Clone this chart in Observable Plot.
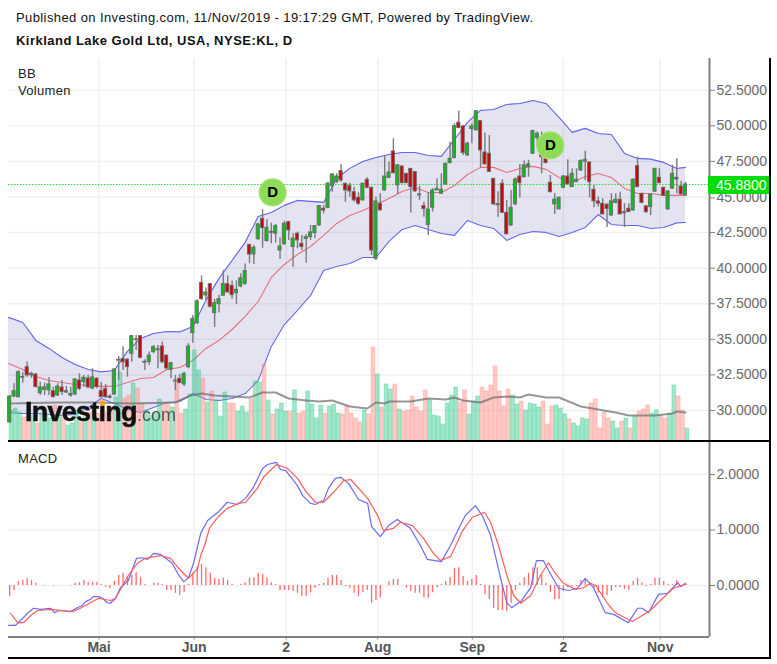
<!DOCTYPE html>
<html><head><meta charset="utf-8">
<script src="https://cdn.jsdelivr.net/npm/d3@7"></script>
<script src="https://cdn.jsdelivr.net/npm/@observablehq/plot@0.6"></script>
<style>
html,body{margin:0;padding:0;background:#fff;}
#wrap{position:relative;width:777px;height:664px;overflow:hidden;font-family:"Liberation Sans",Arial,sans-serif;}
#wrap svg{position:absolute;left:0;background:transparent;}
.t{position:absolute;white-space:nowrap;color:#111;}
.frame{position:absolute;background:#000;}
</style></head><body><div id="wrap"></div>
<script>
const opens=[29.16,30.98,30.93,32.35,33.04,32.46,32.53,31.22,31.45,31.41,31.36,31.05,31.62,31.26,31.05,31.12,32.11,31.99,32.25,31.55,32.23,31.36,31.52,30.98,31.12,33.5,33.63,33.56,33.98,35.0,35.22,33.35,33.39,34.1,34.23,34.5,33.86,32.86,32.1,32.23,31.83,33.04,35.43,36.13,38.97,38.08,38.88,36.84,37.47,38.06,38.88,38.76,38.24,38.71,38.9,41.64,40.96,42.04,43.47,41.9,42.55,42.42,41.24,41.67,43.23,41.48,42.42,41.71,42.04,42.18,42.46,43,44.17,44.24,45.74,46.04,46.82,45.93,45.76,45.34,44.95,44.76,46.21,45.65,40.66,44.53,45.46,46.35,48.2,45.81,47.15,46.63,46.98,46.75,45.18,44.36,43.03,44.25,45.46,45.23,45.88,47.38,47.73,50.22,49.96,47.92,49.77,49.68,50.33,48.13,48.04,46.28,44.5,45.93,43.89,43,44.48,46.44,46.39,47.1,48.04,49.14,48.3,47.68,46,44.48,44.13,45.65,46.44,45.69,46.04,46.86,47.48,47.43,45.51,44.69,44.53,44.46,43.7,44.58,44.81,43.85,44.17,44.05,47.17,45.23,44.34,44.29,45.37,46.35,45.65,44.13,45.58,46.35,45.74,45.11];
const closes=[30.98,31.36,32.69,32.3,32.46,32.56,31.64,31.62,31.62,31.83,30.93,31.69,31.29,31.36,31.17,32.18,31.52,32.3,31.62,32.32,31.64,30.93,30.93,30.89,32.88,33.56,33.39,33.04,35.22,34.95,33.7,33.42,33.86,34.45,34.3,33.39,32.95,33.32,32.04,31.92,32.58,34.5,36.44,37.66,37.82,38.29,37.29,37.54,37.82,38.88,38.29,38.1,38.48,39.28,39.79,40.96,41.43,43.07,42.81,42.84,42.48,42.95,41.52,43.12,42.65,42.07,41.95,41.48,42.18,42.51,42.95,44.36,44.05,45.93,46.58,46.44,46.16,45.46,45.39,44.76,44.53,45.93,45.65,41.24,44.69,44.05,46.44,46.72,46.67,47.22,45.97,45.97,45.69,45.39,45.11,44.15,44.11,45.46,45.58,45.51,47.33,47.69,49.98,49.84,48.08,48.74,49.96,51.03,48.27,47.29,46.77,44.48,44.42,43.89,42.37,44.24,46.23,45.97,47.22,47.29,49.63,49.44,47.8,47.38,45.34,44.81,44.95,46.44,45.88,46.63,46.21,47.52,47.62,46.04,44.69,44.53,43.77,44.15,44.69,44.81,43.77,43.93,43.93,46.21,45.69,44.58,43.93,45.18,46.98,45.97,45.09,45.39,46.63,46.23,45.18,45.88];
const highs=[31.05,31.87,32.8,32.69,33.4,32.69,32.6,31.99,31.92,32.3,31.64,31.88,32.11,31.69,31.64,32.23,32.58,32.46,32.46,32.93,32.32,31.99,31.83,31.1,32.93,33.79,34.48,33.65,35.27,35.27,35.27,33.56,34.1,34.57,34.57,34.8,33.86,33.39,32.46,32.53,32.69,34.69,36.68,37.8,39.45,38.6,38.92,37.8,38.08,39.84,39.45,39.1,39.1,39.6,40.3,41.65,41.59,43.16,44.1,43.4,43.16,43.07,42.13,43.3,43.3,42.42,42.53,42.3,42.37,43,43,44.41,44.41,46.04,46.63,46.63,47.29,45.97,45.97,45.69,45.29,45.97,46.35,45.69,44.99,45.23,47.92,47.45,49.09,47.29,47.15,46.63,46.98,46.75,45.76,44.63,45.29,45.58,46.28,46.63,47.38,48.85,50.15,51.03,50.03,48.85,50.15,51.08,50.33,49.49,49.32,46.28,45.36,46.21,44.76,45.46,46.35,47.29,47.52,47.57,49.68,49.56,49.56,48.92,46.51,45.23,44.99,46.51,47.62,46.98,46.98,47.62,48.22,47.43,45.81,44.99,44.88,44.53,45.23,45.23,45.34,44.53,44.53,46.28,47.8,45.23,44.41,45.18,46.98,46.98,45.69,45.46,47.22,47.69,46.11,46.04];
const lows=[29.1,30.9,30.88,31.92,32.34,32.25,31.6,31.05,31.05,31.05,30.89,30.98,31.05,31.2,30.93,31.05,31.4,31.64,31.52,31.45,31.52,30.89,30.84,30.8,31.05,32.11,32.81,32.34,33.39,34.22,33.63,32.81,33.16,33.98,32.93,33.28,32.81,32.23,31.4,31.9,31.69,32.93,34.73,36.04,37.73,37.73,37.2,35.83,36.84,38.06,38.25,37.82,37.45,38.62,38.78,40.31,40.26,41.95,41.4,41.83,41.71,41.76,40.61,41.6,41.95,40.07,41.36,41.24,40.35,41.95,42.07,42.95,43.82,44.17,45.34,45.97,46.04,44.63,44.99,44.63,44.41,44.71,45.58,40.89,40.54,44.05,45.41,46.28,46.63,45.18,45.93,45.93,43.87,45.34,44.76,43.57,42.3,43.94,45.46,45.18,45.83,47.33,47.69,49.79,47.92,47.85,48.74,49.63,47.05,47.24,46.72,44.41,43.57,43.86,42.37,42.93,44.41,44.95,46.35,46.39,47.99,48.5,46.63,47.33,45.27,43.77,44.1,45.58,45.88,45.69,46.04,46.79,46.16,44.95,44.24,44.29,43.77,42.86,43.63,44.53,43.77,42.86,43.91,44,45.65,44.53,43.86,43.7,45.34,45.93,45.04,44.05,45.53,45.23,45.11,45.06];
const volumes=[31,33,29,24,29,26,18,28,28,23,36,28,26,16,18,31,19,28,29,31,28,39,29,34,44,69,43,46,58,53,38,31,26,28,42,38,38,34,58,28,32,47,91,71,63,39,50,41,25,49,38,38,30,35,29,42,60,59,77,41,27,32,38,30,30,51,28,30,50,37,23,36,28,35,37,28,27,35,28,23,19,31,27,94,67,34,57,52,57,32,30,31,45,34,30,51,41,26,25,17,38,46,54,39,51,27,40,45,54,50,56,75,50,35,52,46,37,40,31,38,37,34,40,17,35,36,33,27,22,18,15,23,22,38,42,13,29,23,20,13,20,23,13,25,30,32,36,28,31,26,23,28,56,45,31,13];
const vmaIdx=[-0.27,11,18.5,28,38,39,41.5,44,47,55,58,61,64,68,71,74,78,82,84,86,87,92,96,100,102,104,108,111,114,117,119,123,126,131,135,139,142,148,152,153,155];
const vmaVal=[38,39,39,38,39,41,46,48,46,44,49,49,43,41,40,41,35,33,39,38,40,40,43,42,44,41,39,44,45,44,47,44,44,35,32,29,26,26,28,30,29];
const bandIdx=[-0.27,3,6,9,12,15,18,21,24,27,30,33,36,39,42,45,48,51,54,57,60,63,66,69,72,75,78,81,84,87,90,93,96,99,102,105,108,111,114,117,120,123,126,129,132,135,138,141,144,147,150,153,155];
const bbUpper=[36.54,36.18,34.92,34.36,33.72,33.23,32.88,32.71,32.81,34.15,35.06,35.41,35.55,35.52,35.9,37.73,39.28,40.54,41.81,43.63,43.91,44.41,44.76,44.69,44.62,46.3,47.01,47.5,47.78,47.99,48.13,48.13,47.92,47.85,49.04,50.24,51.08,51.15,51.5,51.57,51.78,51.57,50.59,49.54,49.82,49.46,49.39,48.06,47.71,47.66,47.43,47.0,47.08];
const bbLower=[29.86,29.79,29.79,29.72,29.65,29.72,30.21,30.84,30.49,30.07,29.86,30.21,30.56,30.63,31.19,30.77,30.7,30.84,31.19,32.11,34.5,36.04,37.03,38.08,39.84,40.12,40.33,40.75,40.75,41.88,42.72,43.0,42.72,42.44,42.3,43.35,43.0,42.79,41.95,42.37,42.58,42.51,42.23,42.51,42.86,43.77,43.07,43.0,43.0,42.79,42.86,43.18,43.21];
const bbMiddle=[33.3,32.88,32.39,32.11,31.97,31.83,31.76,31.69,31.69,31.97,32.25,32.32,32.88,33.02,33.51,34.36,34.92,35.69,36.61,37.66,39.35,40.26,40.96,41.52,42.3,43.14,43.7,44.05,44.48,44.9,45.39,45.67,45.32,45.32,45.81,46.58,47.08,47.08,46.72,47.0,47.15,46.94,46.37,46.02,46.44,46.65,46.37,45.6,45.25,45.25,45.11,45.11,45.11];
const macdIdx=[-0.27,1.3,2.5,4.1,5.5,7.1,9.4,10.3,11.2,13.9,15.5,16.7,17.4,18.5,19.2,20.4,21.3,22.4,23.1,24.3,25.4,27.2,29.1,30.5,31.6,33,34.6,37.3,38.5,39.9,41,42.2,43.8,45.4,47.9,49.9,52.2,54.1,55.9,58,59.1,61.2,62.1,63.3,66,67.2,69,70.1,71.3,72,73.1,74.7,75.9,77.7,80,82.1,83,85,86.9,88.9,91.9,94.2,95.8,99,101.1,102.2,104.5,106.8,108.4,110.3,112.6,114,115.1,117.2,119.5,120.8,122.4,123.6,125.9,128.2,130.2,132,133.9,136.6,138.5,141.9,144,145.1,146.5,148.8,150.9,153.2,153.9,155];
const macdVal=[-0.72,-0.72,-0.63,-0.5,-0.41,-0.43,-0.41,-0.49,-0.45,-0.47,-0.4,-0.36,-0.29,-0.25,-0.2,-0.2,-0.23,-0.31,-0.32,-0.23,-0.04,0.09,0.49,0.5,0.47,0.58,0.56,0.4,0.22,0.07,0.14,0.41,0.94,1.17,1.33,1.5,1.46,1.57,1.77,2.11,2.18,2.22,2.09,2.07,1.8,1.62,1.48,1.46,1.51,1.53,1.75,1.93,1.95,1.84,1.55,1.48,1.06,0.88,1.08,1.19,1.03,0.72,0.47,0.43,0.72,0.9,1.26,1.44,1.26,0.9,0.13,-0.31,-0.4,-0.29,-0.04,0.45,0.45,0.27,-0.05,-0.09,-0.05,0.13,-0.04,-0.49,-0.52,-0.67,-0.41,-0.41,-0.49,-0.16,-0.14,0.05,-0.02,0.04];
const signalIdx=[0.2,1.8,3.2,4.8,6.4,9.4,12.1,14.4,16.2,18.5,20.4,23.1,24.3,25.9,27.2,29.3,31.1,34.6,36.9,39.2,41,43.1,43.8,44.7,45.8,47.7,49.9,52.5,54.1,56.8,58.2,61.2,63.7,66,67.8,70.1,72,74.3,76.6,78.2,82.1,84.4,85.7,88,89.6,92.4,94.9,97.2,98.8,101.1,103.9,106.1,108.9,110.3,112.1,114.2,115.6,117.2,119.5,121.7,123.6,124.7,127,129.8,131.6,133.2,134.4,137.1,138.9,142.8,146.9,149.9,152.2,155];
const signalVal=[-0.5,-0.67,-0.67,-0.54,-0.45,-0.43,-0.45,-0.47,-0.41,-0.31,-0.23,-0.27,-0.23,0,0.18,0.4,0.49,0.54,0.49,0.27,0.13,0.31,0.54,0.72,1.03,1.23,1.39,1.48,1.5,1.75,1.95,2.18,2.11,1.93,1.71,1.5,1.5,1.68,1.89,1.91,1.57,1.26,0.99,1.03,1.14,1.08,0.85,0.58,0.45,0.52,0.99,1.23,1.32,1.14,0.72,0.14,-0.18,-0.32,-0.18,0.18,0.41,0.27,0.04,-0.07,-0.04,0.04,0,-0.32,-0.49,-0.65,-0.45,-0.22,-0.05,0.02];
const histVal=[-0.2,-0.09,0.07,0.09,0.12,0.09,0.04,0,-0.01,0,-0.01,0,0,0,-0.01,0.04,0.05,0.09,0.05,0.06,0.06,0.02,-0.03,-0.06,0.07,0.18,0.22,0.16,0.18,0.23,0.14,0.02,0,0.04,0.04,0.02,-0.09,-0.09,-0.14,-0.18,-0.13,0.02,0.22,0.34,0.38,0.32,0.22,0.13,0.11,0.13,0.09,0.02,0,0.02,0.05,0.13,0.14,0.22,0.2,0.14,0.05,0.02,-0.09,-0.09,-0.09,-0.11,-0.14,-0.2,-0.2,-0.13,-0.05,0.02,0.04,0.13,0.18,0.18,0.09,-0.02,-0.05,-0.14,-0.2,-0.13,-0.09,-0.32,-0.27,-0.22,0,0.07,0.11,0.11,0,-0.05,-0.11,-0.14,-0.14,-0.22,-0.23,-0.13,-0.04,0.02,0.07,0.14,0.31,0.32,0.16,0.07,0.11,0.18,0.02,-0.16,-0.25,-0.41,-0.45,-0.45,-0.47,-0.32,-0.09,0.04,0.14,0.22,0.32,0.32,0.18,0.04,-0.13,-0.25,-0.25,-0.11,-0.04,-0.02,-0.02,0.09,0.11,0.05,-0.05,-0.14,-0.22,-0.18,-0.11,-0.04,-0.04,-0.07,-0.09,0.07,0.13,0.05,-0.02,0.02,0.13,0.13,0.07,0.02,0.02,0.09,0,0.02];
const monthPos=[20.5,42.3,63.4,84.4,106.1,127,149.2];
const monthLabels=["Mai","Jun","2","Aug","Sep","2","Nov"];
const priceTicks=[30,32.5,35,37.5,40,42.5,45,47.5,50,52.5];
const macdTicks=[0,1,2];
const lastPrice=45.88;
const dividends=[{i:60.3,p:45.32},{i:124,p:48.62}];
const volBase=27.82, volUnit=0.07027;

const xDomain=[-0.275,160.5];
const GREEN="#0dbd1e", RED="#c80808";
const GRID="#f1f1f1", AXIS="#808080", TXT="#6a6a6a";
const bars=opens.map((o,i)=>({i,o,c:closes[i],h:highs[i],l:lows[i],v:volumes[i],up:closes[i]>=o}));
const band=bandIdx.map((i,k)=>({i,u:bbUpper[k],m:bbMiddle[k],l:bbLower[k]}));
const vma=vmaIdx.map((i,k)=>({i,v:volBase+vmaVal[k]*volUnit}));
const macd=macdIdx.map((i,k)=>({i,v:macdVal[k]}));
const signal=signalIdx.map((i,k)=>({i,v:signalVal[k]}));
const hist=histVal.map((v,i)=>({i,v}));
const axisFont={fontSize:14,fontFamily:"Liberation Sans, Arial, sans-serif"};

const wrap=document.getElementById("wrap");
const price=Plot.plot({
  width:777,height:442,marginTop:58,marginBottom:1,marginLeft:8,marginRight:68,
  x:{domain:xDomain,axis:null},
  y:{domain:[27.82,54.73],axis:null},
  marks:[
    Plot.ruleY(priceTicks,{stroke:GRID,strokeWidth:1.5}),
    Plot.ruleX(monthPos,{stroke:GRID,strokeWidth:1.5}),
    Plot.areaY(band,{x:"i",y1:"l",y2:"u",fill:"#46469f",fillOpacity:0.15,curve:"linear"}),
    Plot.line(band,{x:"i",y:"u",stroke:"#6464f0",strokeWidth:1.1}),
    Plot.line(band,{x:"i",y:"l",stroke:"#6464f0",strokeWidth:1.1}),
    Plot.line(band,{x:"i",y:"m",stroke:"#e8707a",strokeWidth:1.1}),
    Plot.rect(bars,{x1:d=>d.i,x2:d=>d.i+0.86,y1:volBase,y2:d=>volBase+d.v*volUnit,
      fill:d=>d.up?"#2fc98a":"#ff8a80",fillOpacity:0.45,stroke:d=>d.up?"#2fc98a":"#ff8a80",strokeOpacity:0.35,strokeWidth:1}),
    Plot.line(vma,{x:"i",y:"v",stroke:"#6f6f6f",strokeOpacity:0.72,strokeWidth:2}),
    Plot.ruleY([lastPrice],{stroke:"#22e022",strokeWidth:1,strokeDasharray:"1.5,1.5"}),
    Plot.ruleX(bars,{x:"i",y1:"l",y2:"h",stroke:"#7b7b7b",strokeWidth:1.4}),
    Plot.rect(bars,{x1:d=>d.i-0.36,x2:d=>d.i+0.36,y1:"o",y2:"c",fill:d=>d.up?GREEN:RED,stroke:"#6a6a6a",strokeWidth:0.9}),
    Plot.dot(dividends,{x:"i",y:"p",r:13.5,fill:"#8edc55",stroke:"#a6e07c",strokeWidth:1.2}),
    Plot.text(dividends,{x:"i",y:"p",text:()=>"D",fontSize:15,fontWeight:"bold",fill:"#000",fontFamily:"Liberation Sans, Arial, sans-serif"}),
    Plot.ruleX([xDomain[1]],{stroke:AXIS,strokeWidth:2}),
    Plot.axisY(priceTicks.filter(t=>t!==45),{anchor:"right",tickFormat:d=>d.toFixed(4),tickSize:5,tickPadding:2,label:null,stroke:AXIS,fill:TXT,fontWeight:"normal",...axisFont}),
    Plot.axisY([45],{anchor:"right",tickFormat:d=>d.toFixed(4),tickSize:5,tickPadding:2,label:null,stroke:AXIS,fill:TXT,fontWeight:"normal",...axisFont,dy:1})
  ]
});
price.style.top="0px";
wrap.appendChild(price);

const macdPlot=Plot.plot({
  width:777,height:222,marginTop:0,marginBottom:27.5,marginLeft:8,marginRight:68,
  x:{domain:xDomain,axis:null},
  y:{domain:[-0.928,2.577],axis:null},
  marks:[
    Plot.ruleY(macdTicks,{stroke:GRID,strokeWidth:1.5}),
    Plot.ruleX(monthPos,{stroke:GRID,strokeWidth:1.5}),
    Plot.ruleX(hist,{x:"i",y1:0,y2:"v",stroke:"#ff6a6a",strokeWidth:1.3}),
    Plot.line(macd,{x:"i",y:"v",stroke:"#6a6aff",strokeWidth:1.2}),
    Plot.line(signal,{x:"i",y:"v",stroke:"#ff5c5c",strokeWidth:1.2}),
    Plot.ruleX([xDomain[1]],{stroke:AXIS,strokeWidth:2}),
    Plot.ruleY([-0.928],{stroke:AXIS,strokeWidth:2}),
    Plot.axisY(macdTicks,{anchor:"right",tickFormat:d=>d.toFixed(4),tickSize:5,tickPadding:2,label:null,stroke:AXIS,fill:TXT,...axisFont}),
    Plot.axisX(monthPos,{anchor:"bottom",tickFormat:d=>monthLabels[monthPos.indexOf(d)],tickSize:3,tickPadding:2,label:null,stroke:AXIS,fill:"#555",fontWeight:"bold",...axisFont})
  ]
});
macdPlot.style.top="442px";
wrap.appendChild(macdPlot);

function text(str,left,top,css){const d=document.createElement("div");d.className="t";d.textContent=str;d.style.cssText=`left:${left}px;top:${top}px;${css||""}`;wrap.appendChild(d);return d;}
function box(l,t,w,h,c){const d=document.createElement("div");d.className="frame";d.style.cssText=`left:${l}px;top:${t}px;width:${w}px;height:${h}px;${c?`background:${c};`:""}`;wrap.appendChild(d);return d;}

box(8,440,762,2);
box(8,657,762,2);
box(769,58,2,601);
box(708,176,61,18,"#00dd00");
text("45.8800",716,176,"font-size:14px;line-height:18px;color:#fff;");

text("Published on Investing.com, 11/Nov/2019 - 19:17:29 GMT, Powered by TradingView.",16,10,"font-size:13px;line-height:15px;letter-spacing:0.4px;");
text("Kirkland Lake Gold Ltd, USA, NYSE:KL, D",16,33,"font-size:13px;line-height:15px;font-weight:bold;letter-spacing:0.48px;");
text("BB",18,66,"font-size:13px;line-height:15px;color:#222;letter-spacing:0.3px;");
text("Volumen",18,83,"font-size:13px;line-height:15px;color:#222;letter-spacing:0.3px;");
text("MACD",18,451,"font-size:13px;line-height:15px;color:#222;letter-spacing:0.3px;");

text("Investing",25,397,"font-size:27px;line-height:30px;font-weight:bold;color:#111;letter-spacing:-0.75px;-webkit-text-stroke:0.5px #111;filter:blur(0.5px);");
text(".com",137,404,"font-size:18px;line-height:22px;color:#555;filter:blur(0.4px);");
box(99.5,401,5,4,"#f5a623");
</script></body></html>
